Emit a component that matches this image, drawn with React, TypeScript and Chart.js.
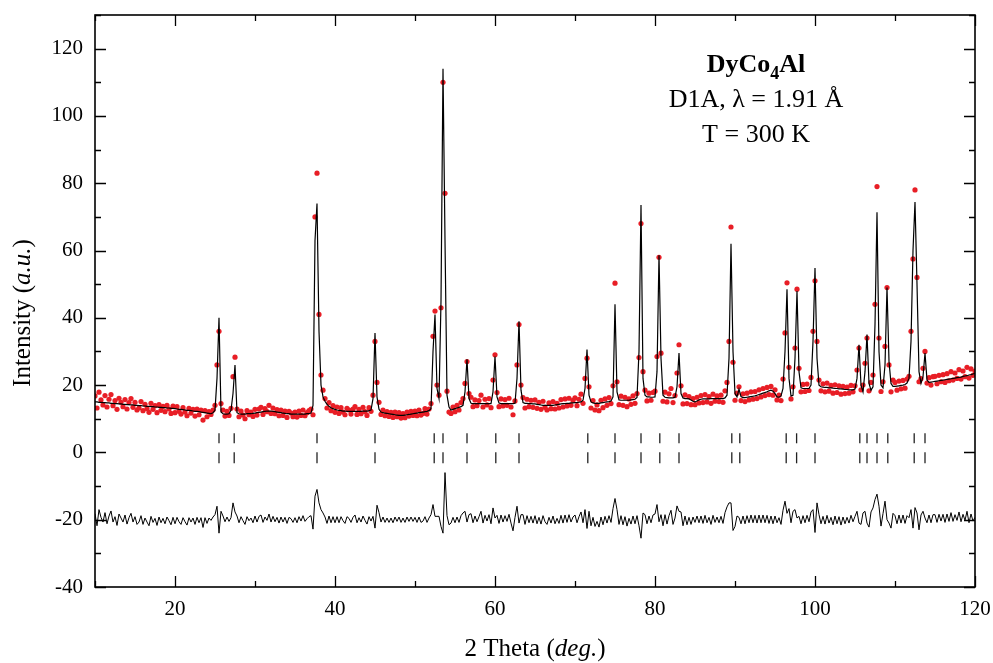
import React, { useEffect, useRef } from 'react';
import { Chart, registerables } from 'chart.js';

Chart.register(...registerables);

// ---- Scan grid (2 Theta, deg.) ----
const SCAN_START = 10;
const SCAN_STEP = 0.25;

// ---- Calculated profile (one value per scan step, 10.00 .. 120.00) ----
const yCalc: number[] = [
  // 10 - 14.75
  15.0, 15.0, 14.9, 14.9, 14.8, 14.8, 14.7, 14.7, 14.6, 14.6, 14.5, 14.5, 14.4, 14.4, 14.3, 14.3, 14.2, 14.2, 14.1, 14.1,
  // 15 - 19.75
  14.0, 14.0, 13.9, 13.9, 13.8, 13.8, 13.7, 13.7, 13.6, 13.6, 13.5, 13.5, 13.4, 13.4, 13.3, 13.3, 13.2, 13.2, 13.1, 13.1,
  // 20 - 24.75
  13.0, 12.9, 12.8, 12.8, 12.7, 12.6, 12.5, 12.5, 12.4, 12.3, 12.2, 12.2, 12.1, 12.0, 11.9, 11.8, 11.7, 11.6, 11.5, 11.8,
  // 25 - 29.75
  12.5, 22.0, 40.0, 12.0, 11.5, 11.4, 11.4, 11.5, 12.5, 17.5, 26.0, 11.8, 11.5, 11.4, 11.4, 11.4, 11.5, 11.5, 11.5, 11.6,
  // 30 - 34.75
  11.7, 11.8, 11.9, 12.0, 12.1, 12.2, 12.3, 12.3, 12.3, 12.2, 12.1, 12.0, 11.9, 11.8, 11.7, 11.6, 11.5, 11.5, 11.4, 11.4,
  // 35 - 39.75
  11.4, 11.4, 11.4, 11.4, 11.4, 11.4, 11.5, 11.5, 11.7, 14.0, 63.0, 74.0, 36.0, 20.0, 16.5, 15.2, 14.3, 13.7, 13.3, 13.0,
  // 40 - 44.75
  12.8, 12.6, 12.5, 12.4, 12.3, 12.3, 12.2, 12.2, 12.2, 12.2, 12.2, 12.2, 12.2, 12.2, 12.3, 12.3, 12.3, 12.4, 12.6, 16.0,
  // 45 - 49.75
  35.5, 16.5, 12.8, 12.0, 11.8, 11.7, 11.6, 11.5, 11.4, 11.3, 11.2, 11.1, 11.0, 11.0, 11.0, 11.1, 11.2, 11.3, 11.4, 11.5,
  // 50 - 54.75
  11.6, 11.7, 11.8, 11.9, 12.0, 12.1, 12.2, 12.4, 13.0, 30.0, 41.0, 19.0, 16.0, 45.0, 114.0, 63.0, 17.0, 13.5, 12.6, 12.8,
  // 55 - 59.75
  13.0, 13.2, 13.4, 13.6, 14.0, 18.0, 27.7, 16.0, 14.6, 14.5, 14.5, 14.5, 14.5, 14.5, 14.5, 14.5, 14.5, 14.5, 14.5, 18.0,
  // 60 - 64.75
  28.5, 16.5, 14.7, 14.5, 14.5, 14.5, 14.5, 14.5, 14.5, 14.5, 14.6, 22.0, 39.0, 18.5, 14.8, 14.6, 14.6, 14.5, 14.5, 14.4,
  // 65 - 69.75
  14.4, 14.3, 14.2, 14.1, 14.0, 14.0, 14.0, 14.0, 14.0, 14.0, 14.1, 14.2, 14.3, 14.4, 14.5, 14.5, 14.6, 14.6, 14.7, 14.7,
  // 70 - 74.75
  14.8, 14.8, 14.9, 15.0, 15.5, 19.0, 30.6, 17.0, 15.0, 14.7, 14.6, 14.6, 14.6, 14.7, 14.8, 14.9, 15.0, 15.1, 15.3, 16.5,
  // 75 - 79.75
  44.0, 18.0, 15.6, 15.5, 15.5, 15.5, 15.5, 15.5, 15.6, 15.7, 15.8, 16.3, 30.0, 73.5, 22.0, 17.0, 16.5, 16.5, 16.4, 16.4,
  // 80 - 84.75
  16.5, 24.0, 58.6, 28.0, 17.0, 16.4, 16.3, 16.2, 16.2, 16.2, 16.4, 19.5, 29.5, 17.5, 16.2, 16.0, 16.0, 15.9, 15.6, 15.2,
  // 85 - 89.75
  15.0, 15.3, 15.6, 15.8, 15.9, 15.9, 15.9, 15.9, 16.0, 16.0, 16.0, 16.0, 16.0, 16.0, 16.0, 16.2, 17.0, 28.0, 62.0, 30.0,
  // 90 - 94.75
  17.5, 16.5, 18.8, 16.6, 16.3, 16.3, 16.4, 16.5, 16.6, 16.7, 16.8, 17.0, 17.2, 17.4, 17.6, 17.8, 18.0, 18.3, 18.5, 18.2,
  // 95 - 99.75
  17.5, 16.5, 16.4, 16.8, 19.0, 30.0, 48.5, 22.0, 16.8, 17.0, 28.0, 48.0, 24.0, 19.2, 19.0, 19.0, 19.0, 19.0, 20.0, 33.0,
  // 100 - 104.75
  54.8, 28.0, 20.0, 19.5, 19.4, 19.3, 19.3, 19.2, 19.2, 19.1, 19.0, 19.0, 18.9, 18.9, 18.8, 18.7, 18.7, 18.6, 18.6, 18.6,
  // 105 - 109.75
  18.8, 22.0, 32.0, 20.0, 18.0, 24.0, 35.0, 20.5, 18.5, 19.5, 38.0, 71.4, 30.0, 20.0, 19.2, 26.0, 49.0, 27.0, 20.5, 19.6,
  // 110 - 114.75
  19.6, 19.7, 19.8, 19.9, 20.0, 20.2, 20.6, 22.0, 33.0, 60.0, 74.4, 50.0, 24.0, 20.5, 22.5, 29.5, 21.5, 20.8, 20.9, 21.0,
  // 115 - 119.75
  21.1, 21.2, 21.3, 21.4, 21.5, 21.6, 21.7, 21.8, 21.9, 22.0, 22.1, 22.2, 22.3, 22.4, 22.6, 22.7, 22.8, 23.0, 23.1, 23.3,
  // 120
  23.5,
];

// ---- Observed intensities (same scan steps) ----
const yObs: number[] = [
  // 10 - 14.75
  16.8, 13.2, 17.9, 15.6, 14.1, 16.9, 13.5, 15.8, 17.2, 13.9, 15.4, 12.8, 16.1, 14.9, 13.6, 15.7, 12.9, 14.8, 16.0, 13.4,
  // 15 - 19.75
  14.9, 12.6, 13.2, 15.1, 12.4, 14.3, 13.0, 11.9, 14.6, 12.8, 13.9, 11.8, 14.2, 12.5, 13.7, 12.1, 14.0, 12.9, 11.6, 13.8,
  // 20 - 24.75
  11.8, 13.6, 12.2, 11.4, 13.3, 12.0, 10.9, 13.1, 11.7, 12.8, 10.8, 12.9, 11.2, 12.6, 9.6, 12.4, 10.6, 12.1, 11.3, 12.6,
  // 25 - 29.75
  14.0, 26.0, 36.0, 14.5, 12.6, 10.8, 12.2, 11.0, 13.1, 22.5, 28.3, 12.9, 10.6, 12.3, 11.1, 10.0, 12.4, 11.2, 12.0, 10.7,
  // 30 - 34.75
  12.8, 11.1, 12.9, 13.4, 11.3, 13.0, 12.1, 14.0, 11.6, 13.2, 11.5, 12.7, 10.9, 12.6, 11.0, 12.3, 10.4, 12.2, 11.7, 10.6,
  // 35 - 39.75
  12.0, 10.5, 12.3, 11.0, 12.6, 10.9, 11.8, 12.4, 12.9, 11.2, 70.0, 83.0, 41.0, 23.0, 18.5, 16.0, 13.2, 14.8, 12.4, 13.9,
  // 40 - 44.75
  11.9, 13.5, 11.6, 13.3, 12.0, 11.2, 13.1, 12.6, 11.4, 12.9, 13.6, 11.3, 12.8, 11.5, 13.4, 12.1, 11.0, 13.3, 12.2, 17.0,
  // 45 - 49.75
  33.0, 20.8, 14.9, 11.3, 12.6, 10.9, 12.1, 10.7, 11.9, 10.4, 12.0, 10.6, 11.8, 10.2, 11.5, 10.3, 12.0, 10.8, 12.2, 11.0,
  // 50 - 54.75
  12.3, 10.9, 12.6, 11.1, 11.6, 13.0, 11.4, 12.9, 14.5, 34.5, 42.0, 20.0, 17.0, 43.0, 110.0, 77.0, 18.2, 12.0, 11.6, 13.5,
  // 55 - 59.75
  12.1, 14.0, 12.6, 14.8, 16.0, 20.5, 27.0, 17.5, 16.4, 13.6, 15.6, 13.9, 15.4, 17.0, 13.5, 15.8, 14.1, 16.0, 13.3, 21.5,
  // 60 - 64.75
  29.0, 17.8, 13.6, 15.9, 13.8, 15.7, 14.0, 16.1, 13.5, 11.2, 15.3, 26.0, 38.0, 20.0, 16.3, 13.2, 15.8, 13.6, 15.5, 13.4,
  // 65 - 69.75
  15.6, 13.1, 14.9, 12.8, 15.2, 13.4, 12.6, 14.7, 13.0, 15.1, 12.9, 14.6, 13.2, 15.7, 13.5, 15.9, 13.8, 16.1, 14.0, 15.5,
  // 70 - 74.75
  16.2, 13.9, 15.8, 17.3, 14.6, 22.0, 28.0, 19.5, 13.2, 15.4, 12.6, 14.1, 12.4, 15.5, 13.3, 15.9, 14.0, 16.3, 14.5, 19.8,
  // 75 - 79.75
  50.3, 21.0, 14.2, 16.7, 14.0, 16.4, 13.6, 15.9, 14.3, 16.8, 14.6, 17.5, 28.2, 68.0, 24.0, 18.5, 15.3, 17.6, 15.5, 17.8,
  // 80 - 84.75
  18.2, 28.5, 58.0, 29.5, 15.2, 17.9, 15.0, 17.4, 19.0, 14.8, 16.9, 23.6, 32.0, 19.8, 14.4, 17.1, 14.5, 16.6, 14.2, 16.0,
  // 85 - 89.75
  14.2, 16.4, 14.7, 16.9, 14.8, 17.2, 15.0, 16.6, 14.6, 17.3, 15.2, 16.8, 15.1, 17.0, 14.9, 18.3, 20.8, 33.0, 67.0, 26.8,
  // 90 - 94.75
  15.5, 17.6, 19.5, 15.4, 17.4, 15.1, 17.6, 15.6, 18.0, 15.8, 18.1, 16.0, 18.6, 16.5, 19.0, 16.9, 19.3, 17.2, 19.6, 17.0,
  // 95 - 99.75
  18.6, 15.6, 17.0, 15.4, 21.8, 35.5, 50.4, 25.3, 15.9, 19.5, 31.0, 48.5, 25.0, 18.0, 20.2, 18.1, 20.3, 18.4, 22.3, 36.0,
  // 100 - 104.75
  51.0, 33.0, 21.5, 18.3, 20.4, 18.0, 20.6, 18.2, 19.9, 17.6, 20.1, 17.8, 19.8, 17.3, 19.6, 17.5, 19.4, 17.6, 19.9, 18.0,
  // 105 - 109.75
  19.8, 24.5, 31.0, 18.6, 20.0, 26.5, 34.0, 18.3, 20.8, 23.0, 44.0, 79.0, 34.0, 18.1, 21.0, 31.5, 49.0, 26.0, 18.0, 21.5,
  // 110 - 114.75
  20.8, 18.5, 21.2, 18.9, 21.4, 19.1, 21.8, 22.6, 36.0, 57.5, 78.0, 52.0, 21.0, 21.9, 25.0, 30.0, 20.6, 22.2, 20.0, 22.5,
  // 115 - 119.75
  22.6, 20.4, 22.9, 21.0, 23.1, 20.8, 23.4, 21.3, 24.0, 21.5, 23.6, 22.0, 24.6, 21.8, 24.2, 22.5, 25.3, 22.1, 24.8, 22.9,
  // 120
  24.2,
];

// ---- Bragg reflection positions (2 Theta, deg.) ----
const braggPositions: number[] = [
  25.5, 27.4, 37.75, 45.0, 52.4, 53.5, 56.5, 60.1, 63.0, 71.6, 75.0, 78.25, 80.6, 83.0,
  89.6, 90.6, 96.4, 97.7, 100.0, 105.6, 106.5, 107.75, 109.1, 112.4, 113.75,
];

// ---- Axis tick values ----
const xTickLabels: number[] = [20, 40, 60, 80, 100, 120];
const yTickLabels: number[] = [-40, -20, 0, 20, 40, 60, 80, 100, 120];

const DIFF_OFFSET = -20;
const BRAGG_ROW_UPPER = 4.2;
const BRAGG_ROW_LOWER = -1.6;

const SERIF = '"Liberation Serif", "Times New Roman", Times, serif';

type Run = { text: string; font: string; dy?: number };

function drawRuns(ctx: CanvasRenderingContext2D, runs: Run[], cx: number, baseline: number) {
  let total = 0;
  const widths = runs.map((r) => {
    ctx.font = r.font;
    const w = ctx.measureText(r.text).width;
    total += w;
    return w;
  });
  let x = cx - total / 2;
  ctx.textAlign = 'left';
  ctx.textBaseline = 'alphabetic';
  runs.forEach((r, i) => {
    ctx.font = r.font;
    ctx.fillText(r.text, x, baseline + (r.dy || 0));
    x += widths[i];
  });
}

const framePlugin = {
  id: 'frameAndText',
  afterDraw(chart: any) {
    const { ctx, chartArea, scales } = chart;
    const { left, right, top, bottom } = chartArea;
    const xs = scales.x;
    const ys = scales.y;
    ctx.save();
    ctx.strokeStyle = '#000';
    ctx.fillStyle = '#000';
    ctx.lineWidth = 1.3;
    ctx.beginPath();
    xs.ticks.forEach((t: any) => {
      const px = Math.round(xs.getPixelForValue(t.value)) + 0.5;
      const len = xTickLabels.includes(t.value) ? 11 : 6;
      ctx.moveTo(px, bottom);
      ctx.lineTo(px, bottom - len);
      ctx.moveTo(px, top);
      ctx.lineTo(px, top + len);
    });
    ys.ticks.forEach((t: any) => {
      const py = Math.round(ys.getPixelForValue(t.value)) + 0.5;
      const len = yTickLabels.includes(t.value) ? 11 : 6;
      ctx.moveTo(left, py);
      ctx.lineTo(left + len, py);
      ctx.moveTo(right, py);
      ctx.lineTo(right - len, py);
    });
    ctx.stroke();
    ctx.lineWidth = 1.6;
    ctx.strokeRect(left, top, right - left, bottom - top);

    // axis titles
    const reg = `25px ${SERIF}`;
    const ital = `italic 25px ${SERIF}`;
    drawRuns(ctx, [
      { text: '2 Theta (', font: reg },
      { text: 'deg.', font: ital },
      { text: ')', font: reg },
    ], (left + right) / 2, 656);

    ctx.save();
    ctx.translate(30, 313);
    ctx.rotate(-Math.PI / 2);
    drawRuns(ctx, [
      { text: 'Intensity (', font: reg },
      { text: 'a.u.', font: ital },
      { text: ')', font: reg },
    ], 0, 0);
    ctx.restore();

    // annotation
    const bold = `bold 26px ${SERIF}`;
    drawRuns(ctx, [
      { text: 'DyCo', font: bold },
      { text: '4', font: `bold 18px ${SERIF}`, dy: 7 },
      { text: 'Al', font: bold },
    ], 756, 72);
    drawRuns(ctx, [{ text: 'D1A, \u03bb = 1.91 \u00c5', font: `26px ${SERIF}` }], 756, 107);
    drawRuns(ctx, [{ text: 'T = 300 K', font: `26px ${SERIF}` }], 756, 142);
    ctx.restore();
  },
};

export default function App() {
  const canvasRef = useRef<HTMLCanvasElement | null>(null);

  useEffect(() => {
    if (!canvasRef.current) return;
    const n = Math.min(yCalc.length, yObs.length);
    const twoTheta = Array.from({ length: n }, (_, i) => SCAN_START + i * SCAN_STEP);
    const calcPts = twoTheta.map((x, i) => ({ x, y: yCalc[i] }));
    const obsPts = twoTheta.map((x, i) => ({ x, y: yObs[i] }));
    const diffPts = twoTheta.map((x, i) => ({ x, y: yObs[i] - yCalc[i] + DIFF_OFFSET }));
    const braggUpper = braggPositions.map((x) => ({ x, y: BRAGG_ROW_UPPER }));
    const braggLower = braggPositions.map((x) => ({ x, y: BRAGG_ROW_LOWER }));

    const tickFont = { family: SERIF, size: 21 };

    const chart = new Chart(canvasRef.current, {
      type: 'line',
      data: {
        datasets: [
          {
            label: 'Calculated',
            data: calcPts,
            borderColor: '#000',
            borderWidth: 1.2,
            pointRadius: 0,
            tension: 0,
            order: 1,
          },
          {
            label: 'Observed',
            data: obsPts,
            showLine: false,
            pointRadius: 2.6,
            pointBackgroundColor: 'rgb(232,30,38)',
            pointBorderColor: 'rgb(232,30,38)',
            pointBorderWidth: 0,
            order: 2,
          },
          {
            label: 'Difference',
            data: diffPts,
            borderColor: '#000',
            borderWidth: 1,
            pointRadius: 0,
            tension: 0,
            order: 3,
          },
          {
            label: 'Bragg',
            data: braggUpper,
            showLine: false,
            pointStyle: 'line',
            pointRotation: 90,
            pointRadius: 5,
            pointBorderColor: '#222',
            pointBorderWidth: 1.3,
            order: 4,
          },
          {
            label: 'Bragg2',
            data: braggLower,
            showLine: false,
            pointStyle: 'line',
            pointRotation: 90,
            pointRadius: 5.5,
            pointBorderColor: '#222',
            pointBorderWidth: 1.3,
            order: 5,
          },
        ] as any,
      },
      options: {
        responsive: false,
        animation: false,
        devicePixelRatio: 1,
        events: [],
        layout: { padding: { top: 15, right: 18, left: 0, bottom: 0 } },
        plugins: { legend: { display: false }, tooltip: { enabled: false } },
        scales: {
          x: {
            type: 'linear',
            min: 10,
            max: 120,
            afterFit: (s: any) => {
              s.height = 76;
              s.paddingLeft = 0;
              s.paddingRight = 0;
            },
            grid: { display: false, drawTicks: false },
            border: { display: false },
            ticks: {
              stepSize: 10,
              autoSkip: false,
              maxRotation: 0,
              padding: 10,
              color: '#000',
              font: tickFont,
              callback: (v: any) => (xTickLabels.includes(Number(v)) ? String(v) : ''),
            },
          },
          y: {
            type: 'linear',
            min: -40,
            max: 130,
            afterFit: (s: any) => {
              s.width = 95;
              s.paddingTop = 0;
              s.paddingBottom = 0;
            },
            grid: { display: false, drawTicks: false },
            border: { display: false },
            ticks: {
              stepSize: 10,
              autoSkip: false,
              padding: 12,
              color: '#000',
              font: tickFont,
              callback: (v: any) => (yTickLabels.includes(Number(v)) ? String(v) : ''),
            },
          },
        },
      } as any,
      plugins: [framePlugin],
    });
    return () => chart.destroy();
  }, []);

  return (
    <div style={{ position: 'absolute', left: 0, top: 0, width: 993, height: 663, background: '#fff' }}>
      <canvas ref={canvasRef} width={993} height={663} style={{ display: 'block' }} />
    </div>
  );
}
